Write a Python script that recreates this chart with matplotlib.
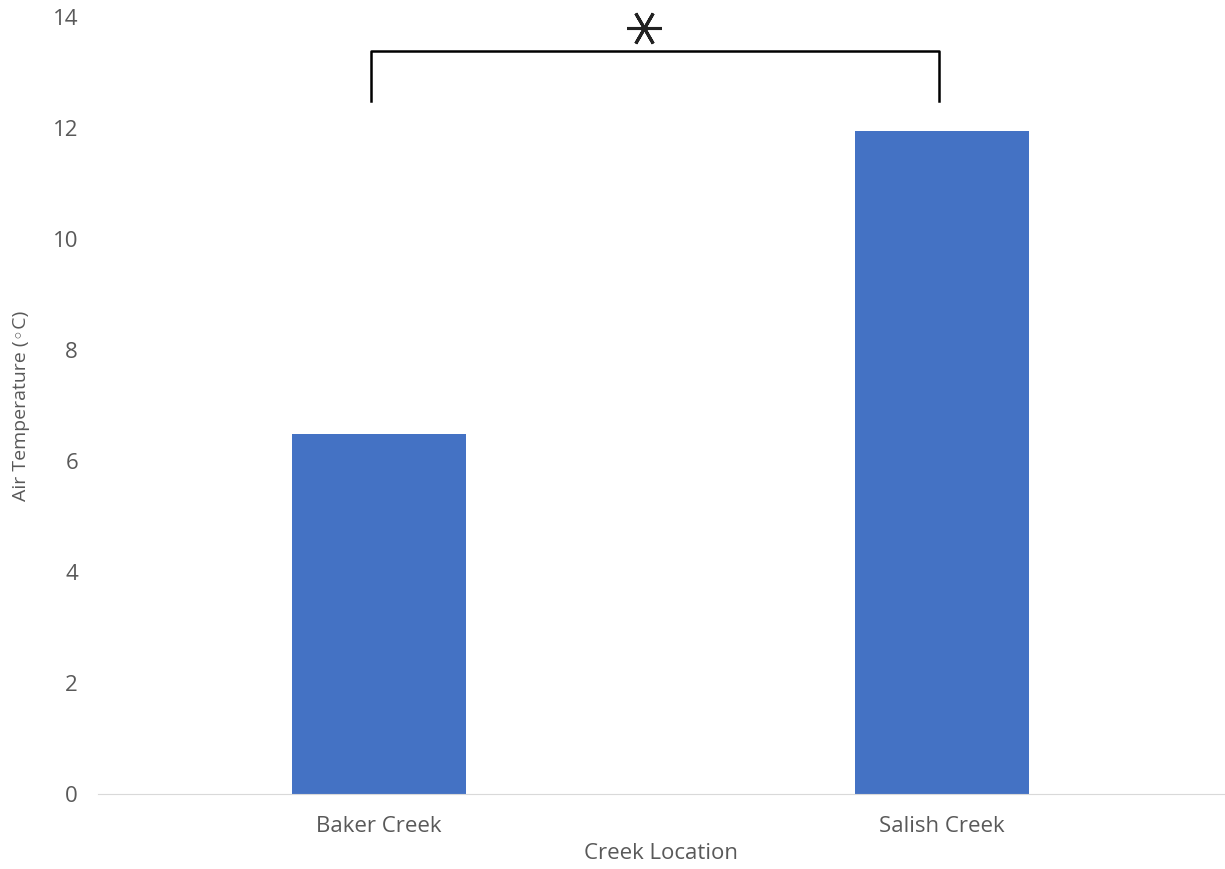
import matplotlib.pyplot as plt

# 데이터
creeks = ['Baker Creek', 'Salish Creek']
air_temp = [6.49, 11.95]
sig_height = 13.4
sig_leg_bottom = 12.5

plt.rcParams['font.family'] = ['Open Sans', 'DejaVu Sans']

fig = plt.figure(figsize=(12.25, 8.69), dpi=100)
ax = fig.add_axes([0.0796, 0.0863, 0.9192, 0.8937])

x = range(len(creeks))
ax.bar(x, air_temp, width=0.31, color='#4472C4')

ax.set_xlim(-0.5, 1.5)
ax.set_ylim(0, 14)
ax.set_yticks(range(0, 15, 2))
ax.set_xticks(list(x))
ax.set_xticklabels(creeks)

# 축 스타일
for side in ['top', 'right', 'left']:
    ax.spines[side].set_visible(False)
ax.spines['bottom'].set_color('#D9D9D9')
ax.tick_params(axis='both', length=0, colors='#595959', labelsize=16)
ax.tick_params(axis='y', pad=14)
ax.tick_params(axis='x', pad=16)

ax.set_xlabel('Creek Location', fontsize=16, color='#595959', labelpad=4)
ax.set_ylabel('Air Temperature (◦C)', fontsize=14, color='#595959', labelpad=16)

# 유의성 표시
ax.plot([-0.015, -0.015, 0.995, 0.995], [sig_leg_bottom, sig_height, sig_height, sig_leg_bottom],
        color='black', lw=1.8)
ax.plot([0.47], [13.8], marker=(6, 2, 30), markersize=25, color='#222222',
        markeredgewidth=2.2, clip_on=False)

fig.savefig('out.png', dpi=100)
